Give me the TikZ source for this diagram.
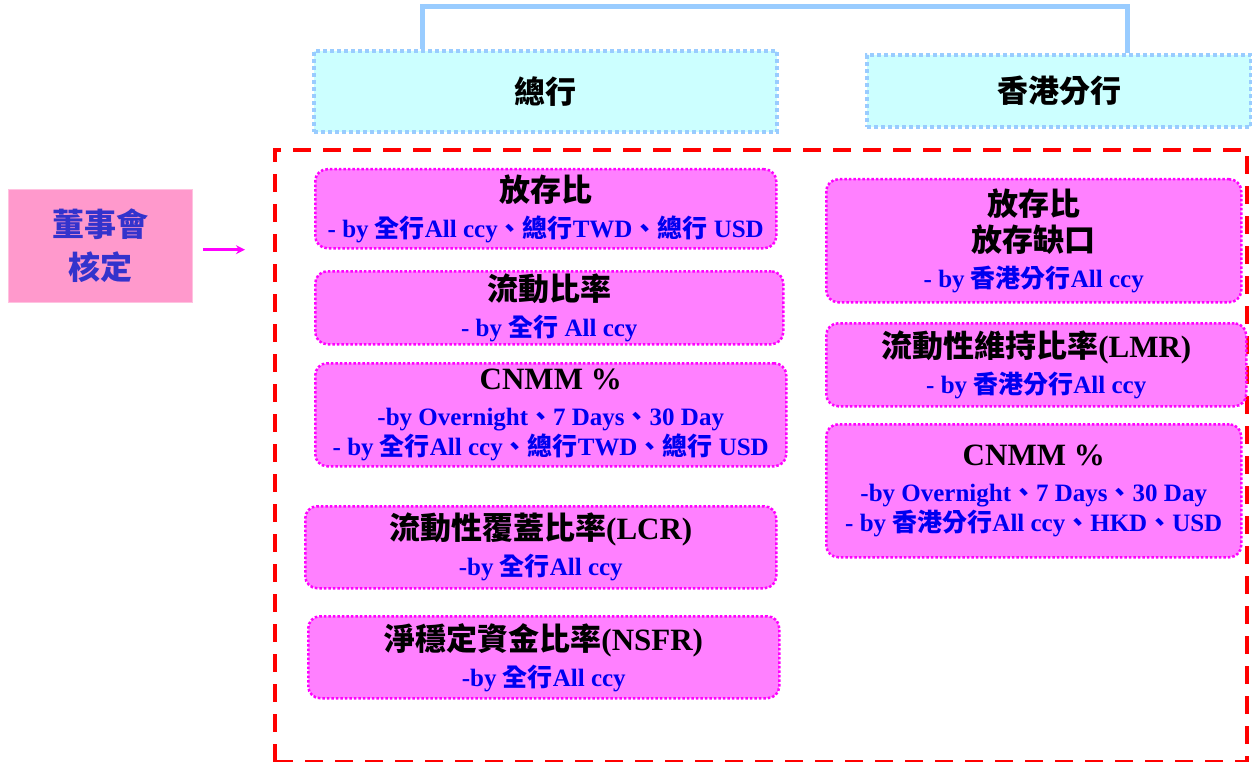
\documentclass[tikz,border=0pt]{standalone}
\usepackage{fontspec}
\setmainfont{Liberation Serif}
\newfontfamily\zhfont{Noto Sans CJK TC}
\usetikzlibrary{arrows.meta,positioning}

\definecolor{boardpink}{RGB}{255,153,204}
\definecolor{boardtext}{RGB}{51,51,204}
\definecolor{boxpink}{RGB}{255,128,255}
\definecolor{boxedge}{RGB}{255,0,255}
\definecolor{branchcyan}{RGB}{204,255,255}
\definecolor{branchline}{RGB}{153,204,255}
\definecolor{bylineblue}{RGB}{0,0,240}
\definecolor{framered}{RGB}{255,0,0}

\newcommand{\zh}[1]{{\zhfont #1}}
\newcommand{\ttl}[1]{{\bfseries\fontsize{31}{31}\selectfont #1}}
\newcommand{\byline}[1]{{\color{bylineblue}\bfseries\fontsize{25}{25}\selectfont #1}}

\tikzset{
  metric/.style={draw=boxedge, fill=boxpink, line width=2.5pt, dash pattern=on 2.5pt off 2pt,
    rounded corners=12pt, anchor=north west, align=center, inner sep=2pt,
    font=\fontsize{25}{36}\selectfont},
  branch/.style={draw=branchline, fill=branchcyan, line width=4pt, dash pattern=on 4pt off 3pt,
    anchor=north west, font=\bfseries\fontsize{31}{31}\selectfont},
  frame/.style={draw=framered, line width=4pt, dash pattern=on 18pt off 12pt, anchor=north west},
  link/.style={draw=branchline, line width=5pt},
  arr/.style={draw=boxedge, line width=2.5pt, -{Stealth[length=9pt,width=9pt]}}
}

\begin{document}
\begin{tikzpicture}[x=1pt,y=-1pt]
  \useasboundingbox (0,0) rectangle (1252,762);

  % board
  \node[fill=boardpink, draw=boardpink!60, minimum width=184, minimum height=113, anchor=north west,
    align=center, text=boardtext, font=\bfseries\fontsize{32}{43}\selectfont] (board) at (8,189)
    {\zh{董事會}\\\zh{核定}};

  \node[frame, minimum width=972, minimum height=612] (frame) at (273,148) {};
  \draw[arr] ([xshift=11,yshift=-4]board.east) -- ([xshift=-28,yshift=-4]frame.west |- board.east);

  % branches
  \node[branch, minimum width=463, minimum height=81] (hq) at (312,49) {\zh{總行}};
  \node[branch, minimum width=384, minimum height=72] (hk) at (865,53) {\zh{香港分行}};
  \draw[link] ([xshift=110]hq.north west) -- ++(0,-42) -| ([xshift=262]hk.north west);

  % head office ratios
  \node[metric, minimum width=461, minimum height=79] (m1) at (314,168)
    {\ttl{\zh{放存比}}\\\byline{- by \zh{全行}All ccy\zh{、總行}TWD\zh{、總行} USD}};
  \node[metric, minimum width=468, minimum height=73] (m2) at (314,270)
    {\ttl{\zh{流動比率}}\\\byline{- by \zh{全行} All ccy}};
  \node[metric, minimum width=471, minimum height=103] (m3) at (314,362)
    {\ttl{CNMM \%}\\\byline{-by Overnight\zh{、}7 Days\zh{、}30 Day}\\[-6pt]
     \byline{- by \zh{全行}All ccy\zh{、總行}TWD\zh{、總行} USD}};
  \node[metric, minimum width=471, minimum height=82] (m4) at (304,505)
    {\ttl{\zh{流動性覆蓋比率}(LCR)}\\\byline{-by \zh{全行}All ccy}};
  \node[metric, minimum width=471, minimum height=82] (m5) at (307,615)
    {\ttl{\zh{淨穩定資金比率}(NSFR)}\\\byline{-by \zh{全行}All ccy}};

  % hong kong branch ratios
  \node[metric, minimum width=415, minimum height=123] (h1) at (825,178)
    {\ttl{\zh{放存比}}\\\ttl{\zh{放存缺口}}\\\byline{- by \zh{香港分行}All ccy}};
  \node[metric, minimum width=420, minimum height=83] (h2) at (825,322)
    {\ttl{\zh{流動性維持比率}(LMR)}\\\byline{- by \zh{香港分行}All ccy}};
  \node[metric, minimum width=415, minimum height=133] (h3) at (825,423)
    {\ttl{CNMM \%}\\\byline{-by Overnight\zh{、}7 Days\zh{、}30 Day}\\[-6pt]
     \byline{- by \zh{香港分行}All ccy\zh{、}HKD\zh{、}USD}};

\end{tikzpicture}
\end{document}
